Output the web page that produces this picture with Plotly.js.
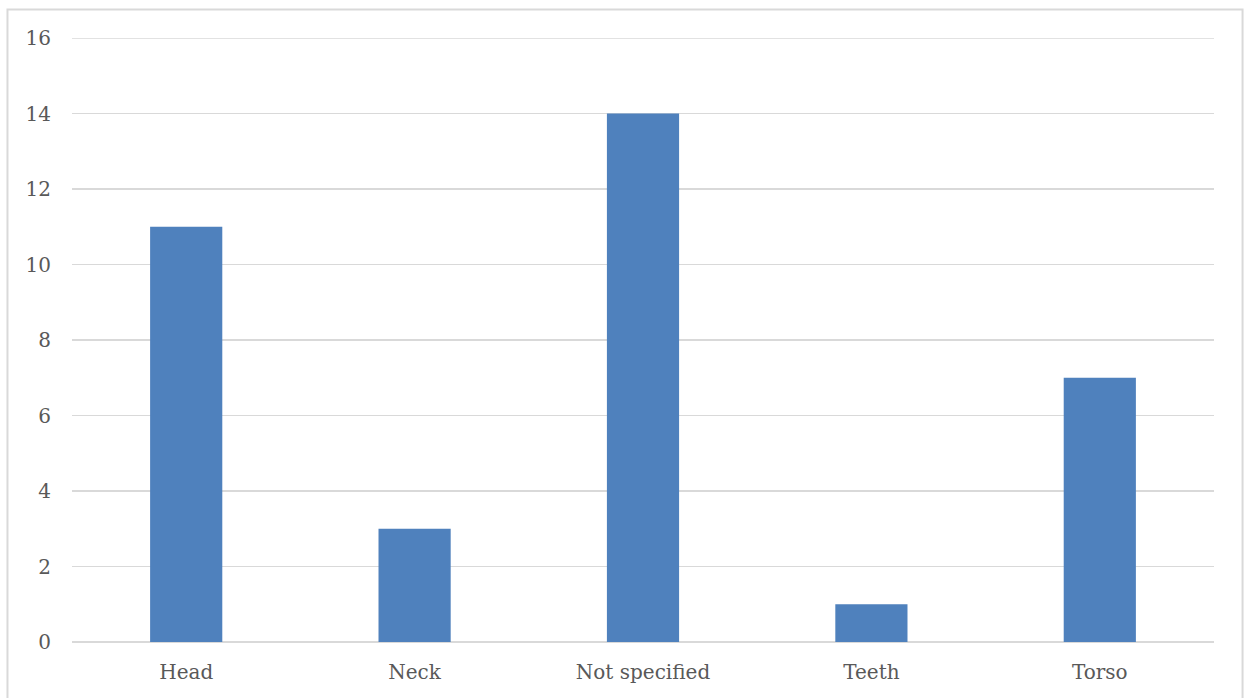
<!DOCTYPE html>
<html>
<head>
<meta charset="utf-8">
<script src="https://cdn.plot.ly/plotly-3.0.1.min.js"></script>
<style>html,body{margin:0;padding:0;background:#fff;}#chart{width:1244px;height:698px;}</style>
</head>
<body>
<div id="chart"></div>
<script>
const categories = ["Head", "Neck", "Not specified", "Teeth", "Torso"];
const values = [11, 3, 14, 1, 7];
const yTicks = [0, 2, 4, 6, 8, 10, 12, 14, 16];

const font = {family: "DejaVu Serif, Liberation Serif, serif", size: 20, color: "#595959"};

const trace = {
  type: "bar",
  x: categories,
  y: values,
  marker: {color: "#4f81bd"},
  width: 0.316,
  hoverinfo: "x+y"
};

const layout = {
  width: 1244, height: 698,
  margin: {l: 72, r: 30, t: 38, b: 56},
  paper_bgcolor: "#ffffff",
  plot_bgcolor: "#ffffff",
  showlegend: false,
  font: font,
  xaxis: {
    type: "category",
    showgrid: false,
    showline: false,
    zeroline: false,
    ticks: "",
    tickfont: font,
    ticklabelstandoff: 16
  },
  yaxis: {
    range: [0, 16],
    tickvals: yTicks,
    ticktext: yTicks.map(String),
    showgrid: true,
    gridcolor: "#d9d9d9",
    gridwidth: 1.3,
    zeroline: true,
    zerolinecolor: "#d9d9d9",
    zerolinewidth: 1.3,
    showline: false,
    ticks: "",
    tickfont: font,
    ticklabelstandoff: 20
  },
  shapes: [{
    type: "rect", xref: "paper", yref: "paper",
    x0: -0.0565, x1: 1.0250, y0: -0.1, y1: 1.0472,
    line: {color: "#d9d9d9", width: 2},
    fillcolor: "rgba(0,0,0,0)",
    layer: "below"
  }, {
    type: "line", xref: "paper", yref: "y",
    x0: 0, x1: 1, y0: yTicks[yTicks.length - 1], y1: yTicks[yTicks.length - 1],
    line: {color: "#d9d9d9", width: 1.3},
    layer: "below"
  }]
};

Plotly.newPlot("chart", [trace], layout, {displayModeBar: false, staticPlot: true});
</script>
</body>
</html>
